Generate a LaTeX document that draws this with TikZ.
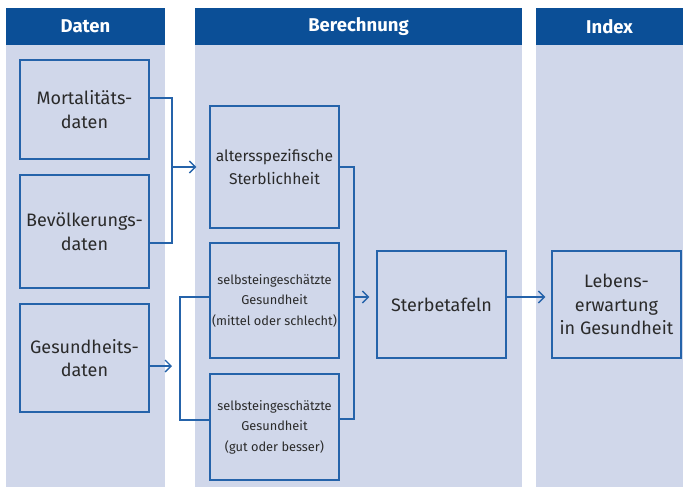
\documentclass[tikz,border=0pt]{standalone}
\usepackage{fontspec}
\setmainfont{Fira Sans}
\usetikzlibrary{arrows.meta}
\definecolor{hdr}{HTML}{0B4F97}
\definecolor{bg}{HTML}{D0D7EA}
\definecolor{ln}{HTML}{2563AA}
\definecolor{txt}{HTML}{2A2A2A}
\tikzset{
  box/.style={draw=ln, line width=1.4pt, fill=bg, minimum width=129pt, inner sep=0pt, align=center, text=txt, font=\fontsize{18}{23.5}\selectfont},
  smallbox/.style={box, font=\fontsize{12.8}{20.5}\selectfont},
  midbox/.style={box, font=\fontsize{15.6}{22.5}\selectfont},
  conn/.style={draw=ln, line width=1.3pt},
  arr/.style={conn, -{Straight Barb[length=6pt,width=12pt,line width=1.3pt]}},
  colhdr/.style={fill=hdr, draw=none, text=white, font=\bfseries\fontsize{18.5}{20}\selectfont, inner sep=0pt},
}
\begin{document}
\begin{tikzpicture}[x=1pt,y=-1pt]
\useasboundingbox (0,0) rectangle (687,487);
% columns
\fill[bg] (6,45) rectangle (165,487);
\fill[bg] (195,45) rectangle (522,487);
\fill[bg] (536,45) rectangle (683,487);
\node[colhdr, minimum width=159pt, minimum height=37pt] (hdaten) at (85.5,26.5) {\raisebox{-2pt}{Daten}};
\node[colhdr, minimum width=327pt, minimum height=37pt] (hber) at (358.5,26.5) {\raisebox{-2pt}{Berechnung}};
\node[colhdr, minimum width=147pt, minimum height=37pt] (hidx) at (609.5,26.5) {\raisebox{-2pt}{Index}};
% boxes
\node[box, minimum height=99pt] (mort) at (84.5,109.5) {Mortalitäts-\\daten};
\node[box, minimum height=113pt] (bev) at (84.5,231.5) {Bevölkerungs-\\daten};
\node[box, minimum height=108pt] (ges) at (84.5,358) {Gesundheits-\\daten};
\node[midbox, minimum height=122pt] (alt) at (274.5,167) {altersspezifische\\Sterblichheit};
\node[smallbox, minimum height=115pt] (mit) at (274.5,300.5) {selbsteingeschätzte\\Gesundheit\\(mittel oder schlecht)};
\node[smallbox, minimum height=106pt] (gut) at (274.5,427) {selbsteingeschätzte\\Gesundheit\\(gut oder besser)};
\node[box, minimum height=107pt] (ster) at (441.5,304.5) {Sterbetafeln};
\node[box, minimum height=107pt] (leb) at (616.5,304.5) {Lebens-\\erwartung\\in Gesundheit};
% junction coordinates
\coordinate (j1) at (172,98);
\coordinate (j2) at (172,243);
\coordinate (j3) at (172,167);
\coordinate (k1) at (180,297);
\coordinate (k2) at (180,420);
\coordinate (k3) at (172,366);
\coordinate (r1) at (354,167);
\coordinate (r2) at (354,419);
\coordinate (r3) at (354,297);
% connectors
\draw[conn] (mort.east |- j1) -- (j1) -- (j2) -- (bev.east |- j2);
\draw[arr] (j3) -- ([xshift=-13pt]alt.west |- j3);
\draw[conn] (mit.west |- k1) -- (k1) -- (k2) -- (gut.west |- k2);
\draw[arr] (ges.east |- k3) -- (k3);
\draw[conn] (alt.east |- r1) -- (r1) -- (r2) -- (gut.east |- r2);
\draw[arr] (r3) -- ([xshift=-7pt]ster.west |- r3);
\draw[arr] (ster.east |- r3) -- ([xshift=-6pt]leb.west |- r3);
\end{tikzpicture}
\end{document}
